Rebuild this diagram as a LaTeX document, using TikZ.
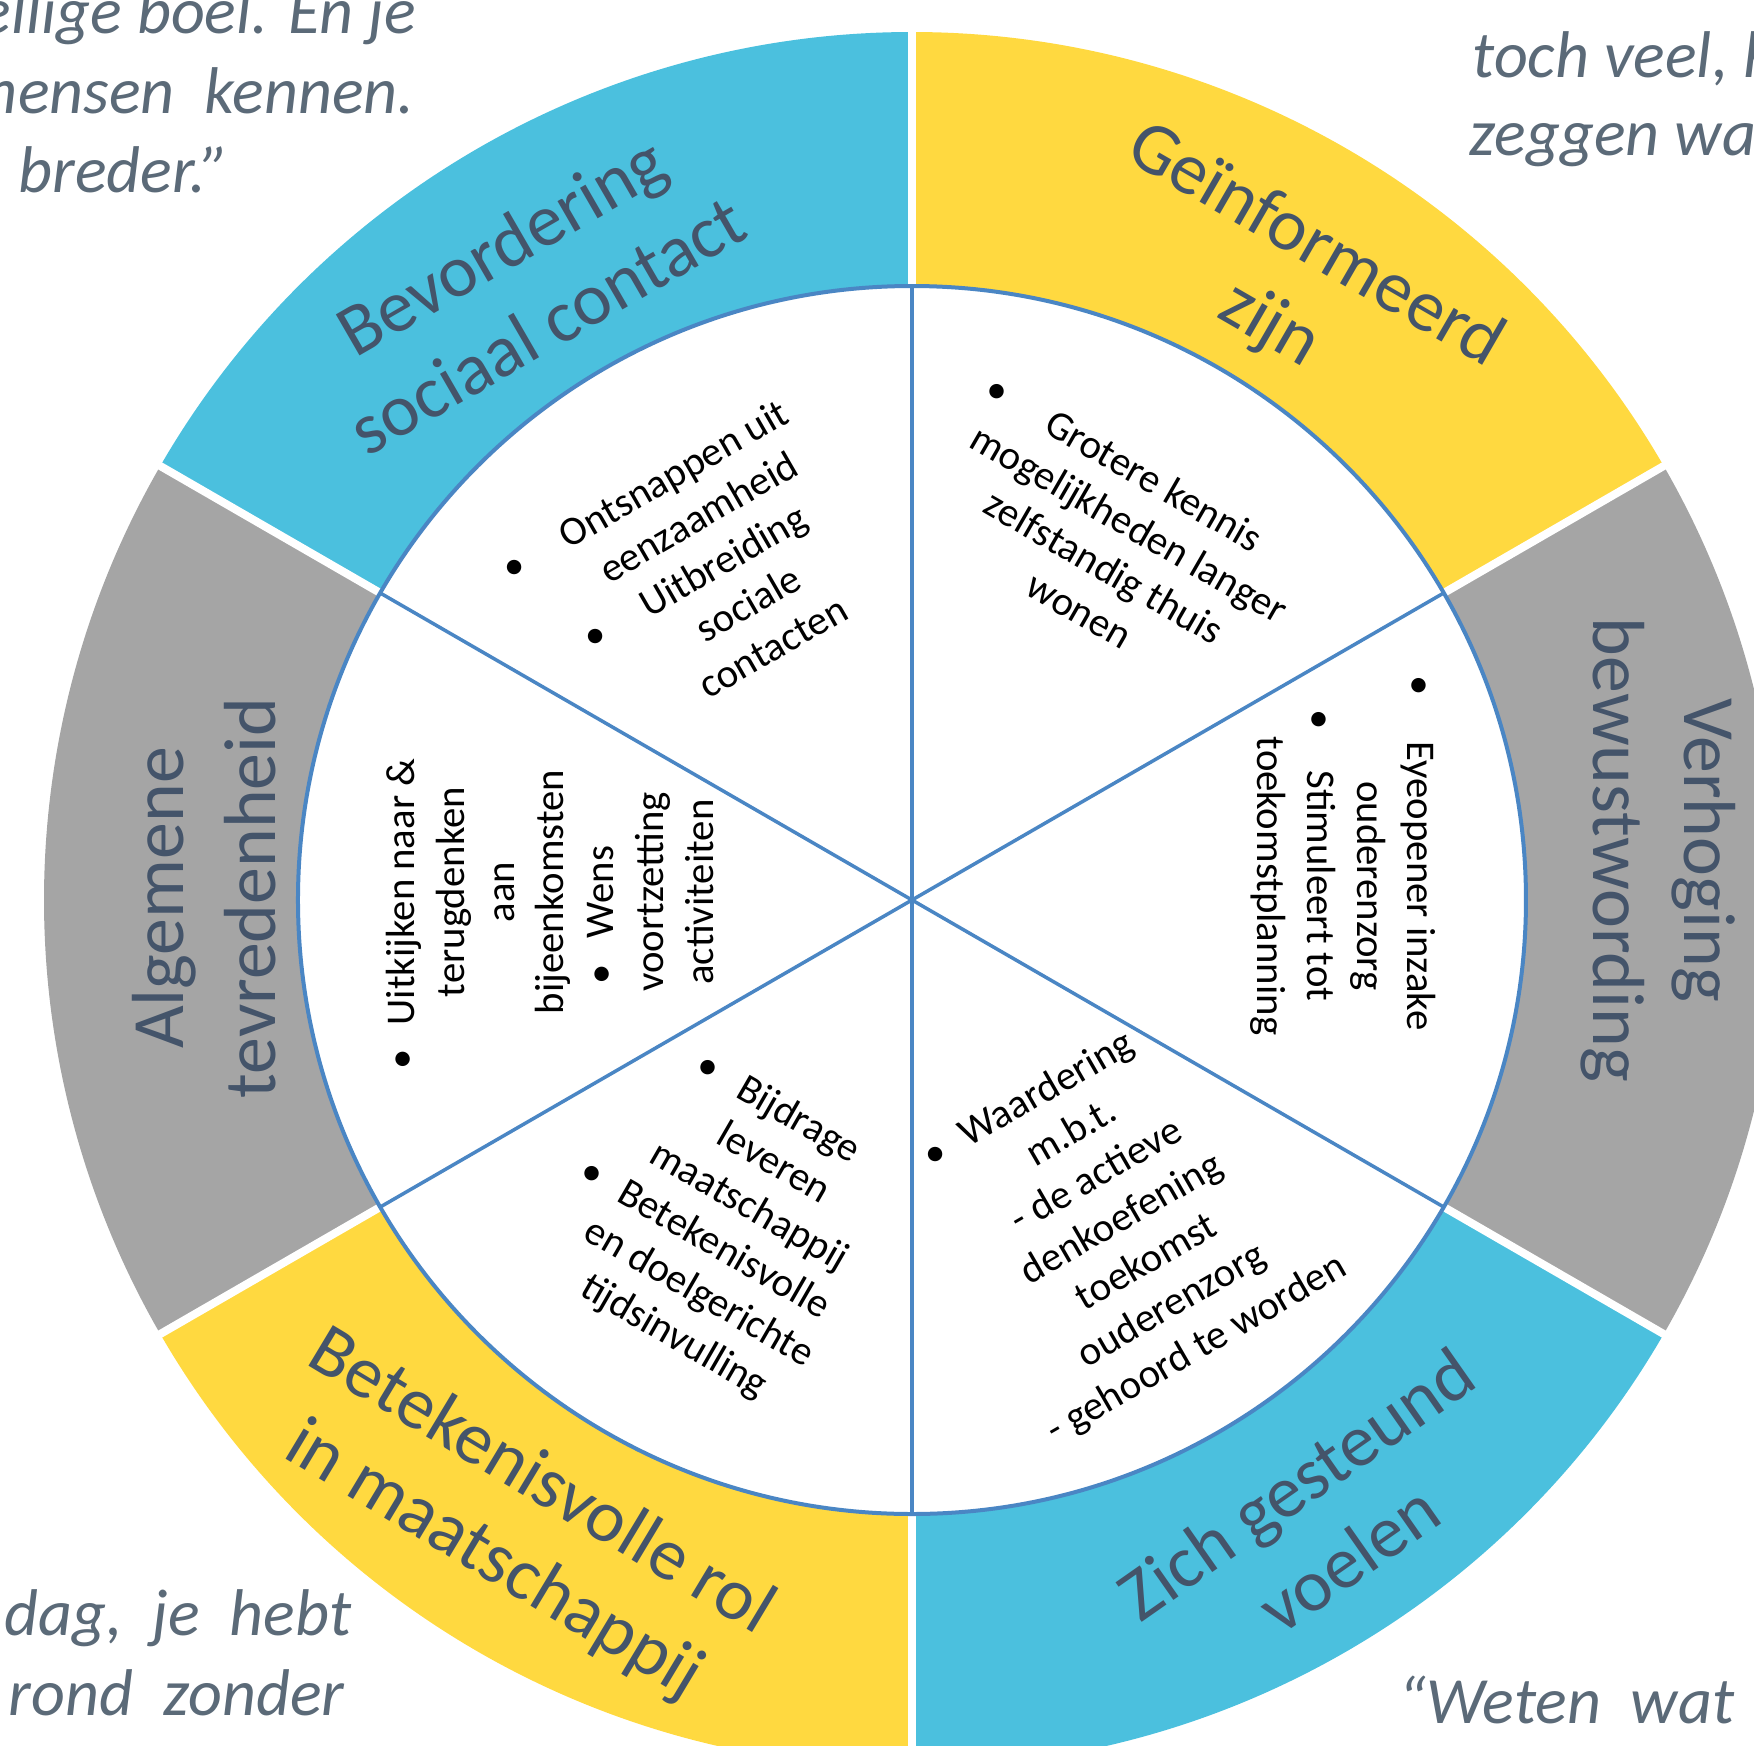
\documentclass[tikz,border=0pt]{standalone}
\usepackage{fontspec}
\setmainfont{Carlito}
\definecolor{ringblue}{RGB}{75,192,222}
\definecolor{ringyellow}{RGB}{255,217,64}
\definecolor{ringgray}{RGB}{165,165,165}
\definecolor{spoke}{RGB}{74,134,196}
\definecolor{labeltext}{RGB}{68,84,106}
\definecolor{quotetext}{RGB}{91,106,120}
\newcommand{\bul}[1]{\llap{\textbullet\hspace{#1}}}

\begin{document}
\begin{tikzpicture}[
  ringtext/.style={text=labeltext,align=center,font=\fontsize{21}{26}\selectfont},
  itemtxt/.style={align=center,font=\fontsize{11.6}{14.2}\selectfont},
  quotetxt/.style={text=quotetext,inner sep=0pt,font=\fontsize{18.8}{22.5}\selectfont\itshape}]
  \clip (-9.12,-8.45) rectangle (8.42,9.00);

  \node[quotetxt,anchor=base east] (q0) at (-4.95,8.67) {ellige boel. En je};
  \node[quotetxt,anchor=base east] (q1) at (-4.97,7.87) {mensen \ kennen.};
  \node[quotetxt,anchor=base west] (q2) at (-8.94,7.08) {breder.”};
  \node[quotetxt,anchor=base west] (q3) at (5.60,8.23) {toch veel, h};
  \node[quotetxt,anchor=base west] (q4) at (5.57,7.45) {zeggen wat};
  \node[quotetxt,anchor=base east] (q5) at (-5.60,-7.35) {dag, \ je \ hebt};
  \node[quotetxt,anchor=base east] (q6) at (-5.67,-8.15) {rond \ zonder};
  \node[quotetxt,anchor=base west] (q7) at (4.86,-8.23) {“Weten \ wat};

  \fill[ringyellow] (30:6.14) arc[start angle=30,end angle=90,radius=6.14] -- (90:8.68) arc[start angle=90,end angle=30,radius=8.68] -- cycle;
  \fill[ringblue] (90:6.14) arc[start angle=90,end angle=150,radius=6.14] -- (150:8.68) arc[start angle=150,end angle=90,radius=8.68] -- cycle;
  \fill[ringgray] (150:6.14) arc[start angle=150,end angle=210,radius=6.14] -- (210:8.68) arc[start angle=210,end angle=150,radius=8.68] -- cycle;
  \fill[ringyellow] (210:6.14) arc[start angle=210,end angle=270,radius=6.14] -- (270:8.68) arc[start angle=270,end angle=210,radius=8.68] -- cycle;
  \fill[ringblue] (270:6.14) arc[start angle=270,end angle=330,radius=6.14] -- (330:8.68) arc[start angle=330,end angle=270,radius=8.68] -- cycle;
  \fill[ringgray] (-30:6.14) arc[start angle=-30,end angle=30,radius=6.14] -- (30:8.68) arc[start angle=30,end angle=-30,radius=8.68] -- cycle;
  \draw[white,line width=0.08cm] (30:6.14) -- (30:8.9);
  \draw[white,line width=0.08cm] (90:6.14) -- (90:8.9);
  \draw[white,line width=0.08cm] (150:6.14) -- (150:8.9);
  \draw[white,line width=0.08cm] (210:6.14) -- (210:8.9);
  \draw[white,line width=0.08cm] (270:6.14) -- (270:8.9);
  \draw[white,line width=0.08cm] (330:6.14) -- (330:8.9);

  \draw[spoke,line width=0.04cm,fill=white] (0,0) circle (6.14);
  \draw[spoke,line width=0.035cm] (30:6.14) -- (210:6.14);
  \draw[spoke,line width=0.035cm] (90:6.14) -- (270:6.14);
  \draw[spoke,line width=0.035cm] (150:6.14) -- (330:6.14);

  \node[ringtext,rotate=30] (s0) at (-3.88,6.15) {Bevordering\\sociaal contact};
  \node[ringtext,rotate=-30] (s1) at (3.80,6.14) {Geïnformeerd\\zijn};
  \node[ringtext,rotate=-90] (s2) at (7.46,0.50) {Verhoging\\bewustwording};
  \node[ringtext,rotate=90] (s3) at (-7.08,0.02) {Algemene\\tevredenheid};
  \node[ringtext,rotate=35] (s4) at (4.10,-6.21) {Zich gesteund\\voelen};
  \node[ringtext,rotate=-31] (s5) at (-3.95,-6.22) {Betekenisvolle rol\\in maatschappij};

  \node[itemtxt,rotate=30] (t0) at (-1.89,3.40) {\bul{0.46cm}Ontsnappen uit\\eenzaamheid\\\bul{0.46cm}Uitbreiding\\sociale\\contacten};
  \node[itemtxt,rotate=-30] (t1) at (2.05,3.55) {\bul{0.49cm}Grotere kennis\\mogelijkheden langer\\zelfstandig thuis\\wonen};
  \node[itemtxt,rotate=-90] (t2) at (4.31,0.14) {\bul{0.46cm}Eyeopener inzake\\ouderenzorg\\\bul{0.41cm}Stimuleert tot\\toekomstplanning};
  \node[itemtxt,rotate=90] (t3) at (-3.62,0.08) {\bul{0.24cm}Uitkijken naar \&\\terugdenken\\aan\\bijeenkomsten\\\bul{0.26cm}Wens\\voortzetting\\activiteiten};
  \node[itemtxt,rotate=-30] (t4) at (-1.76,-3.29) {\bul{0.27cm}Bijdrage\\leveren\\maatschappij\\\bul{0.23cm}Betekenisvolle\\en doelgerichte\\tijdsinvulling};
  \node[itemtxt,rotate=30] (t5) at (2.10,-3.20) {\bul{0.22cm}Waardering\\m.b.t.\\- de actieve\\denkoefening\\toekomst\\ouderenzorg\\- gehoord te worden};
\end{tikzpicture}
\end{document}
